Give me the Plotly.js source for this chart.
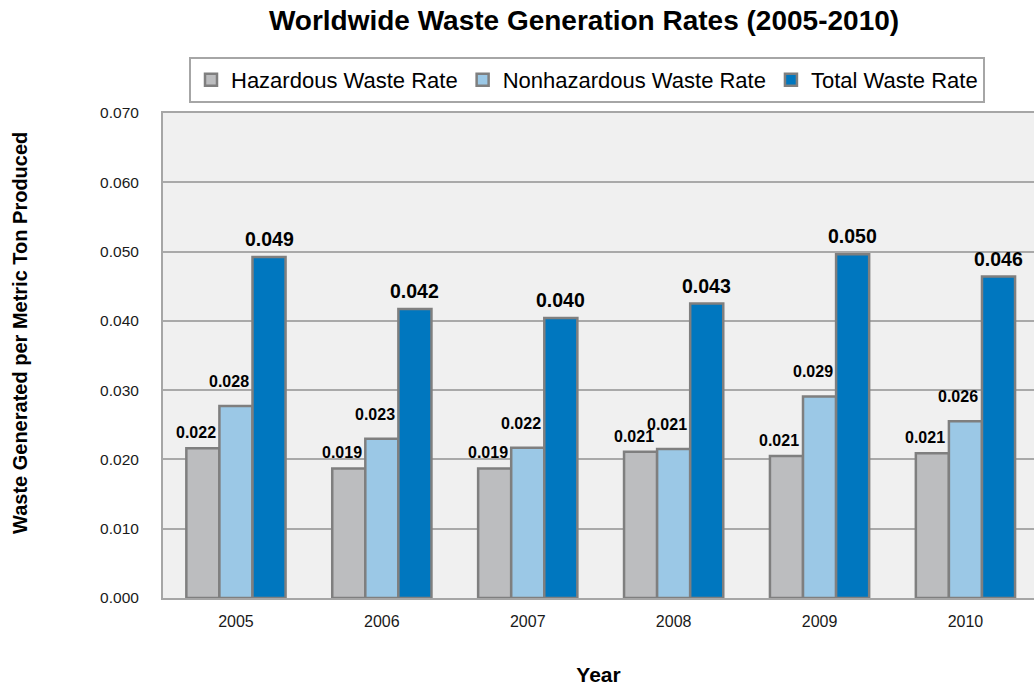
<!DOCTYPE html>
<html>
<head>
<meta charset="utf-8">
<script src="https://cdn.plot.ly/plotly-3.0.1.min.js"></script>
<style>
  html, body { margin: 0; padding: 0; background: #ffffff; }
  #chart { width: 1034px; height: 686px; }
</style>
</head>
<body>
<div id="chart"></div>
<script>
// ---- data ----
const years = ['2005', '2006', '2007', '2008', '2009', '2010'];
const hazardous = [0.0216, 0.0187, 0.0187, 0.0211, 0.0205, 0.0209];
const nonhazardous = [0.0277, 0.0230, 0.0217, 0.0215, 0.0291, 0.0255];
const total = [0.0492, 0.0417, 0.0404, 0.0425, 0.0496, 0.0464];
const hazardousLabels = ['0.022', '0.019', '0.019', '0.021', '0.021', '0.021'];
const nonhazardousLabels = ['0.028', '0.023', '0.022', '0.021', '0.029', '0.026'];
const totalLabels = ['0.049', '0.042', '0.040', '0.043', '0.050', '0.046'];
const seriesNames = ['Hazardous Waste Rate', 'Nonhazardous Waste Rate', 'Total Waste Rate'];
const yTicks = [0, 0.01, 0.02, 0.03, 0.04, 0.05, 0.06, 0.07];
const yTitle = 'Waste Generated per Metric Ton Produced';

// ---- styling ----
const FONT = 'Liberation Sans, Arial, Helvetica, sans-serif';
const colors = ['#BCBDBF', '#9BC8E6', '#0077BF'];
const outline = '#7F7F7F';
const BARGAP = 0.32;

const seriesValues = [hazardous, nonhazardous, total];
const seriesLabels = [hazardousLabels, nonhazardousLabels, totalLabels];

const traces = seriesValues.map((vals, j) => ({
  type: 'bar',
  name: seriesNames[j],
  x: years,
  y: vals,
  marker: { color: colors[j], line: { color: outline, width: 2.5 } },
  hoverinfo: 'x+y+name'
}));

// value labels positioned from the data via the axis scales
const slot = (1 - BARGAP) / seriesValues.length;
const labelStyle = [
  { size: 16, xshift: -7, yshift: 5 },
  { size: 16, xshift: -7, yshift: 14 },
  { size: 19.5, xshift: 0, yshift: 5 }
];
const annotations = [];
seriesValues.forEach((vals, j) => {
  vals.forEach((v, i) => {
    annotations.push({
      xref: 'x', yref: 'y',
      x: i + (j - 1) * slot,
      y: v,
      text: seriesLabels[j][i],
      showarrow: false,
      xanchor: 'center', yanchor: 'bottom',
      xshift: labelStyle[j].xshift,
      yshift: labelStyle[j].yshift,
      font: { family: FONT, size: labelStyle[j].size, color: '#000000', weight: 700 }
    });
  });
});

// y-axis title (placed as in the reference, slightly above the plot centre)
annotations.push({
  xref: 'paper', yref: 'paper',
  x: (20 - 163) / 871, y: (598 - 333) / 485,
  xanchor: 'center', yanchor: 'middle',
  text: yTitle,
  textangle: -90,
  showarrow: false,
  font: { family: FONT, size: 20, color: '#000000', weight: 700 }
});

const layout = {
  width: 1034,
  height: 686,
  margin: { l: 163, r: 0, t: 113, b: 88, pad: 0 },
  paper_bgcolor: '#ffffff',
  plot_bgcolor: '#F0F0F0',
  barmode: 'group',
  bargap: BARGAP,
  bargroupgap: 0,
  title: {
    text: 'Worldwide Waste Generation Rates (2005-2010)',
    font: { family: FONT, size: 28, color: '#000000', weight: 700 },
    xref: 'container', yref: 'container',
    x: 584 / 1034, xanchor: 'center',
    y: 1 - 20 / 686, yanchor: 'middle'
  },
  showlegend: true,
  legend: {
    orientation: 'h',
    x: (189 - 163) / 871, xanchor: 'left',
    y: (598 - 57) / 485, yanchor: 'top',
    bordercolor: '#A6A6A6', borderwidth: 2,
    bgcolor: '#ffffff',
    font: { family: FONT, size: 22, color: '#000000' },
    traceorder: 'normal',
    itemwidth: 30
  },
  xaxis: {
    type: 'category',
    range: [-0.5, -0.5 + 871 / 145.9],
    showgrid: false,
    showline: true, linecolor: '#A6A6A6', linewidth: 2, mirror: true,
    ticks: '',
    ticklabelstandoff: 8,
    tickfont: { family: FONT, size: 16, color: '#1a1a1a' },
    title: {
      text: 'Year',
      font: { family: FONT, size: 21, color: '#000000', weight: 700 },
      standoff: 38
    },
    fixedrange: true
  },
  yaxis: {
    range: [0, 0.07],
    tickvals: yTicks,
    tickformat: '.3f',
    showgrid: true, gridcolor: '#A9A9A9', gridwidth: 2,
    zeroline: false,
    showline: true, linecolor: '#A6A6A6', linewidth: 2, mirror: true,
    ticks: '',
    ticklabelstandoff: 19,
    tickfont: { family: FONT, size: 15.5, color: '#1a1a1a' },
    fixedrange: true
  },
  annotations: annotations
};

Plotly.newPlot('chart', traces, layout, { displayModeBar: false, responsive: false });
</script>
</body>
</html>
